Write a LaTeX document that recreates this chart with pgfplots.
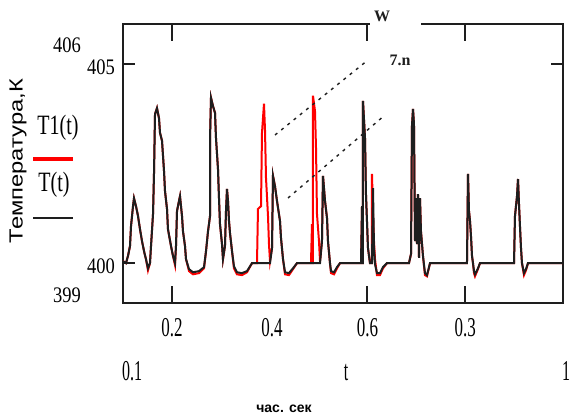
\documentclass[border=0pt]{standalone}
\usepackage{pgfplots}
\pgfplotsset{compat=1.18}
\usepackage{fontspec}
\setmainfont{Liberation Serif}
\newfontfamily\sansf{Liberation Sans}
\definecolor{tred}{RGB}{255,0,0}
\definecolor{tblk}{RGB}{30,30,30}
\begin{document}
\begin{tikzpicture}
\useasboundingbox (0pt,0pt) rectangle (570pt,416pt);
\begin{axis}[at={(123pt,113pt)}, anchor=south west, scale only axis,
 width=440pt, height=279pt,
 xmin=0.1, xmax=1, ymin=399, ymax=406,
 axis line style={line width=2pt, draw=tblk},
 xtick={0.2,0.6,0.8}, xticklabels={0.2,0.6,0.3},
 ytick={400,405}, yticklabels={400,405},
 major tick length=0pt,
 xticklabel style={font=\fontsize{17}{17}\selectfont, anchor=center, yshift=-25pt, yscale=1.6},
 yticklabel style={font=\fontsize{18.5}{18.5}\selectfont, anchor=center, xshift=-22pt, yshift=-3pt, yscale=1.2},
]
\addplot[tred, line width=2pt, line join=miter] coordinates {
(0.1000,400.05)(0.1061,400.00)(0.1102,400.18)(0.1143,400.43)(0.1164,400.93)(0.1205,401.43)(0.1225,401.63)(0.1266,401.43)(0.1307,401.18)(0.1348,400.85)(0.1389,400.55)(0.1430,400.30)(0.1470,400.10)(0.1511,399.82)(0.1552,400.00)(0.1573,400.43)(0.1614,401.23)(0.1634,402.24)(0.1655,403.74)(0.1695,403.89)(0.1736,403.64)(0.1757,403.27)(0.1798,403.07)(0.1839,402.31)(0.1859,401.81)(0.1900,401.36)(0.1920,400.85)(0.1982,400.43)(0.2023,400.18)(0.2064,399.95)(0.2084,400.43)(0.2105,401.31)(0.2145,401.56)(0.2166,401.68)(0.2207,401.18)(0.2227,400.80)(0.2268,400.43)(0.2289,400.10)(0.2350,399.80)(0.2432,399.72)(0.2555,399.75)(0.2657,399.87)(0.2698,400.30)(0.2739,400.80)(0.2780,401.18)(0.2780,403.12)(0.2800,404.15)(0.2841,403.94)(0.2882,403.77)(0.2902,403.14)(0.2943,402.36)(0.2964,401.61)(0.2984,400.98)(0.3025,400.48)(0.3045,400.10)(0.3086,400.43)(0.3107,401.31)(0.3127,401.86)(0.3148,401.56)(0.3168,401.06)(0.3189,400.75)(0.3230,400.30)(0.3270,399.87)(0.3332,399.72)(0.3434,399.70)(0.3536,399.77)(0.3639,400.00)
(0.3741,400.00)(0.3761,401.36)(0.3823,401.43)(0.3843,403.27)(0.3884,404.00)(0.3905,403.32)(0.3925,402.14)(0.3966,401.18)(0.3986,400.48)(0.4007,400.05)
(0.4048,400.38)(0.4068,402.19)(0.4109,401.93)(0.4150,401.56)(0.4211,401.06)(0.4232,400.63)(0.4273,400.10)(0.4314,399.72)(0.4395,399.70)(0.4477,399.85)(0.4559,400.00)
(0.4845,400.00)(0.4866,400.98)(0.4866,400.00)(0.4886,400.00)(0.4886,404.20)(0.4927,403.82)(0.4948,402.89)(0.4968,401.23)(0.5009,400.55)(0.5030,400.05)
(0.5070,400.55)(0.5091,402.19)(0.5132,401.56)(0.5173,401.13)(0.5193,400.55)(0.5234,400.00)(0.5255,399.75)(0.5316,399.72)(0.5377,399.87)(0.5439,400.00)(0.5868,400.00)(0.5889,401.43)(0.5889,400.00)(0.5909,400.00)(0.5909,404.07)(0.5950,403.14)(0.5970,401.73)(0.6011,400.38)(0.6052,400.00)(0.6093,400.00)(0.6093,402.24)(0.6114,401.23)(0.6134,400.55)(0.6155,400.10)(0.6195,399.70)(0.6257,399.70)(0.6318,399.87)(0.6400,400.00)(0.6850,400.00)(0.6891,400.23)(0.6911,403.44)(0.6932,403.87)(0.6952,403.49)(0.6973,400.55)(0.6993,401.63)(0.7014,400.48)(0.7034,401.73)(0.7055,400.13)(0.7075,401.63)(0.7095,400.80)(0.7136,400.18)(0.7177,399.70)(0.7218,399.67)(0.7280,400.00)(0.8036,400.00)(0.8057,402.24)(0.8077,401.31)(0.8098,401.06)(0.8118,400.68)(0.8139,400.18)(0.8159,400.00)(0.8180,399.75)(0.8200,399.67)(0.8261,399.85)(0.8302,400.00)(0.8998,400.00)(0.9018,401.18)(0.9059,401.68)(0.9080,402.11)(0.9100,401.48)(0.9120,400.93)(0.9141,400.38)(0.9161,400.00)(0.9202,399.70)(0.9243,399.82)(0.9284,400.00)(1.0000,400.00)
};
\addplot[tblk, line width=2pt, line join=miter] coordinates {
(0.1000,400.05)(0.1061,400.00)(0.1102,400.18)(0.1143,400.43)(0.1164,400.93)(0.1205,401.43)(0.1225,401.63)(0.1266,401.43)(0.1307,401.18)(0.1348,400.85)(0.1389,400.55)(0.1430,400.30)(0.1470,400.10)(0.1511,399.87)(0.1552,400.00)(0.1573,400.43)(0.1614,401.23)(0.1634,402.24)(0.1655,403.74)(0.1695,403.89)(0.1736,403.64)(0.1757,403.27)(0.1798,403.07)(0.1839,402.31)(0.1859,401.81)(0.1900,401.36)(0.1920,400.85)(0.1982,400.43)(0.2023,400.18)(0.2064,400.00)(0.2084,400.43)(0.2105,401.31)(0.2145,401.56)(0.2166,401.68)(0.2207,401.18)(0.2227,400.80)(0.2268,400.43)(0.2289,400.10)(0.2350,399.85)(0.2432,399.77)(0.2555,399.80)(0.2657,399.90)(0.2698,400.30)(0.2739,400.80)(0.2780,401.18)(0.2780,403.12)(0.2800,404.15)(0.2841,403.94)(0.2882,403.77)(0.2902,403.14)(0.2943,402.36)(0.2964,401.61)(0.2984,400.98)(0.3025,400.48)(0.3045,400.10)(0.3086,400.43)(0.3107,401.31)(0.3127,401.86)(0.3148,401.56)(0.3168,401.06)(0.3189,400.75)(0.3230,400.30)(0.3270,399.92)(0.3332,399.77)(0.3434,399.75)(0.3536,399.80)(0.3639,400.00)(0.4007,400.00)(0.4048,400.38)(0.4068,402.19)(0.4109,401.93)(0.4150,401.56)(0.4211,401.06)(0.4232,400.63)(0.4273,400.10)(0.4314,399.77)(0.4395,399.75)(0.4477,399.87)(0.4559,400.00)(0.5030,400.00)(0.5070,400.55)(0.5091,402.19)(0.5132,401.56)(0.5173,401.13)(0.5193,400.55)(0.5234,400.00)(0.5255,399.80)(0.5316,399.77)(0.5377,399.90)(0.5439,400.00)(0.5868,400.00)(0.5889,401.43)(0.5889,400.00)(0.5909,400.00)(0.5909,404.07)(0.5950,403.14)(0.5970,401.73)(0.6011,400.38)(0.6052,400.00)(0.6093,400.00)(0.6114,401.88)(0.6134,400.38)(0.6155,399.97)(0.6195,399.75)(0.6257,399.75)(0.6318,399.90)(0.6400,400.00)(0.6850,400.00)(0.6891,400.23)(0.6911,403.44)(0.6932,403.87)(0.6952,403.49)(0.6973,400.55)(0.6993,401.63)(0.7014,400.48)(0.7034,401.73)(0.7055,400.13)(0.7075,401.63)(0.7095,400.80)(0.7136,400.18)(0.7177,399.75)(0.7218,399.70)(0.7280,400.00)(0.8036,400.00)(0.8057,402.24)(0.8077,401.31)(0.8098,401.06)(0.8118,400.68)(0.8139,400.18)(0.8159,400.00)(0.8180,399.80)(0.8200,399.72)(0.8261,399.87)(0.8302,400.00)(0.8998,400.00)(0.9018,401.18)(0.9059,401.68)(0.9080,402.11)(0.9100,401.48)(0.9120,400.93)(0.9141,400.38)(0.9161,400.00)(0.9202,399.75)(0.9243,399.85)(0.9284,400.00)(1.0000,400.00)
};
\end{axis}
% tick marks, inside the frame as in the reference
\draw[tblk, line width=2pt]
  (171.9pt,113pt) -- (171.9pt,130pt)
  (367.4pt,113pt) -- (367.4pt,130pt)
  (465.2pt,113pt) -- (465.2pt,130pt)
  (171.9pt,392pt) -- (171.9pt,375pt)
  (367.4pt,392pt) -- (367.4pt,375pt)
  (465.2pt,392pt) -- (465.2pt,375pt)
  (123pt,352.1pt) -- (135pt,352.1pt)
  (123pt,152.9pt) -- (135pt,152.9pt)
  (563pt,352.1pt) -- (551pt,352.1pt);
% tick label without a tick mark
\node[font=\fontsize{17}{17}\selectfont, yscale=1.6] at (272pt,88pt) {0.4};
% gap in the top frame
\fill[white] (369.5pt,388pt) rectangle (420.5pt,396pt);
% annotation leader lines
\draw[tblk, line width=1.4pt, dash pattern=on 3pt off 5pt] (275pt,281pt) -- (368pt,356pt);
\draw[tblk, line width=1.4pt, dash pattern=on 3pt off 5pt] (288pt,218pt) -- (385pt,301pt);
\node[font=\bfseries\fontsize{16}{16}\selectfont, text=tblk] at (382pt,400pt) {W};
\node[font=\bfseries\fontsize{16}{16}\selectfont, text=tblk] at (400pt,356pt) {7.n};
% Mathcad limit labels
\node[font=\fontsize{18.5}{18.5}\selectfont, yscale=1.2] at (67pt,371pt) {406};
\node[font=\fontsize{18.5}{18.5}\selectfont, yscale=1.2] at (67pt,121pt) {399};
\node[font=\fontsize{16}{16}\selectfont, yscale=1.8] at (132pt,45pt) {0.1};
\node[font=\fontsize{16}{16}\selectfont, yscale=1.8] at (346pt,43pt) {t};
\node[font=\fontsize{16}{16}\selectfont, yscale=1.8] at (566pt,45pt) {1};
% axis titles
\node[font=\sansf\fontsize{19}{19}\selectfont, rotate=90, xscale=1.25] at (18pt,255pt) {Температура,К};
\node[font=\sansf\bfseries\fontsize{14}{14}\selectfont] at (284pt,7pt) {час. сек};
% legend
\node[font=\fontsize{20}{20}\selectfont, yscale=1.4] at (58pt,288pt) {T1(t)};
\draw[tred, line width=4pt] (33pt,257pt) -- (73pt,257pt);
\node[font=\fontsize{20}{20}\selectfont, yscale=1.4] at (54pt,231pt) {T(t)};
\draw[tblk, line width=2pt] (33pt,198pt) -- (73pt,198pt);
\end{tikzpicture}
\end{document}
